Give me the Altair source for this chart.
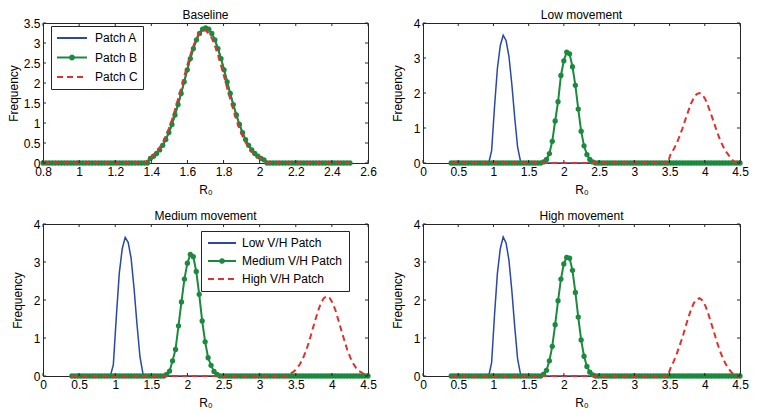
import altair as alt
import pandas as pd

FONT = "Liberation Sans"
BLUE = "#2b47a8"
GREEN = "#1b8a3e"
RED = "#e2302d"
AXC = "#262626"

# sampling grids (R0 values)
X_BASE = [0.800, 0.817, 0.834, 0.851, 0.868, 0.885, 0.902, 0.919, 0.936, 0.953,
          0.970, 0.987, 1.004, 1.021, 1.038, 1.055, 1.072, 1.089, 1.106, 1.123,
          1.140, 1.157, 1.174, 1.191, 1.208, 1.225, 1.242, 1.259, 1.276, 1.293,
          1.310, 1.327, 1.344, 1.361, 1.378, 1.395, 1.412, 1.429, 1.446, 1.463,
          1.480, 1.497, 1.514, 1.531, 1.548, 1.565, 1.582, 1.599, 1.616, 1.633,
          1.650, 1.667, 1.684, 1.701, 1.718, 1.735, 1.752, 1.769, 1.786, 1.803,
          1.820, 1.837, 1.854, 1.871, 1.888, 1.905, 1.922, 1.939, 1.956, 1.973,
          1.990, 2.007, 2.024, 2.041, 2.058, 2.075, 2.092, 2.109, 2.126, 2.143,
          2.160, 2.177, 2.194, 2.211, 2.228, 2.245, 2.262, 2.279, 2.296, 2.313,
          2.330, 2.347, 2.364, 2.381, 2.398, 2.415, 2.432, 2.449, 2.466, 2.483,
          2.500]

X_MOVE = [0.400, 0.441, 0.482, 0.523, 0.564, 0.605, 0.646, 0.687, 0.728, 0.769,
          0.810, 0.851, 0.892, 0.933, 0.974, 1.015, 1.056, 1.097, 1.138, 1.179,
          1.220, 1.261, 1.302, 1.343, 1.384, 1.425, 1.466, 1.507, 1.548, 1.589,
          1.630, 1.671, 1.712, 1.753, 1.794, 1.835, 1.876, 1.917, 1.958, 1.999,
          2.040, 2.081, 2.122, 2.163, 2.204, 2.245, 2.286, 2.327, 2.368, 2.409,
          2.450, 2.491, 2.532, 2.573, 2.614, 2.655, 2.696, 2.737, 2.778, 2.819,
          2.860, 2.901, 2.942, 2.983, 3.024, 3.065, 3.106, 3.147, 3.188, 3.229,
          3.270, 3.311, 3.352, 3.393, 3.434, 3.475, 3.516, 3.557, 3.598, 3.639,
          3.680, 3.721, 3.762, 3.803, 3.844, 3.885, 3.926, 3.967, 4.008, 4.049,
          4.090, 4.131, 4.172, 4.213, 4.254, 4.295, 4.336, 4.377, 4.418, 4.459,
          4.500]

# Baseline panel
BASE_A = [0, 0, 0, 0, 0, 0, 0, 0, 0, 0,
          0, 0, 0, 0, 0, 0, 0, 0, 0, 0,
          0, 0, 0, 0, 0, 0, 0, 0, 0, 0,
          0, 0, 0, 0, 0, 0.118, 0.169, 0.238, 0.328, 0.443,
          0.586, 0.760, 0.964, 1.20, 1.46, 1.74, 2.03, 2.33, 2.61, 2.86,
          3.08, 3.24, 3.35, 3.37, 3.35, 3.24, 3.08, 2.86, 2.61, 2.33,
          2.03, 1.74, 1.46, 1.20, 0.964, 0.760, 0.586, 0.443, 0.328, 0.238,
          0.169, 0.118, 0.080, 0, 0, 0, 0, 0, 0, 0,
          0, 0, 0, 0, 0, 0, 0, 0, 0, 0,
          0, 0, 0, 0, 0, 0, 0, 0, 0, 0,
          0]
BASE_B = [0, 0, 0, 0, 0, 0, 0, 0, 0, 0,
          0, 0, 0, 0, 0, 0, 0, 0, 0, 0,
          0, 0, 0, 0, 0, 0, 0, 0, 0, 0,
          0, 0, 0, 0, 0, 0.118, 0.169, 0.238, 0.328, 0.443,
          0.586, 0.760, 0.964, 1.20, 1.46, 1.74, 2.03, 2.33, 2.61, 2.86,
          3.08, 3.24, 3.345, 3.38, 3.345, 3.24, 3.08, 2.86, 2.61, 2.33,
          2.03, 1.74, 1.46, 1.20, 0.964, 0.760, 0.586, 0.443, 0.328, 0.238,
          0.169, 0.118, 0.080, 0, 0, 0, 0, 0, 0, 0,
          0, 0, 0, 0, 0, 0, 0, 0, 0, 0,
          0, 0, 0, 0, 0, 0, 0, 0, 0, 0,
          0]
BASE_C = [0, 0, 0, 0, 0, 0, 0, 0, 0, 0,
          0, 0, 0, 0, 0, 0, 0, 0, 0, 0,
          0, 0, 0, 0, 0, 0, 0, 0, 0, 0,
          0, 0, 0, 0, 0.06, 0.14, 0.20, 0.28, 0.385, 0.515,
          0.67, 0.86, 1.08, 1.33, 1.60, 1.87, 2.16, 2.44, 2.70, 2.93,
          3.12, 3.25, 3.32, 3.31, 3.24, 3.12, 2.93, 2.70, 2.44, 2.16,
          1.87, 1.60, 1.33, 1.08, 0.86, 0.67, 0.515, 0.385, 0.28, 0.20,
          0.14, 0.10, 0.06, 0, 0, 0, 0, 0, 0, 0,
          0, 0, 0, 0, 0, 0, 0, 0, 0, 0,
          0, 0, 0, 0, 0, 0, 0, 0, 0, 0,
          0]

# Low movement
LOW_A = [0, 0, 0, 0, 0, 0, 0, 0, 0, 0,
         0, 0, 0, 0, 0.35, 1.6, 2.7, 3.35, 3.65, 3.5,
         3.05, 2.25, 1.3, 0.45, 0.05, 0, 0, 0, 0, 0,
         0, 0, 0, 0, 0, 0, 0, 0, 0, 0,
         0, 0, 0, 0, 0, 0, 0, 0, 0, 0,
         0, 0, 0, 0, 0, 0, 0, 0, 0, 0,
         0, 0, 0, 0, 0, 0, 0, 0, 0, 0,
         0, 0, 0, 0, 0, 0, 0, 0, 0, 0,
         0, 0, 0, 0, 0, 0, 0, 0, 0, 0,
         0, 0, 0, 0, 0, 0, 0, 0, 0, 0,
         0]
LOW_B = [0, 0, 0, 0, 0, 0, 0, 0, 0, 0,
         0, 0, 0, 0, 0, 0, 0, 0, 0, 0,
         0, 0, 0, 0, 0, 0, 0, 0, 0, 0,
         0, 0, 0.03, 0.10, 0.27, 0.62, 1.20, 1.75, 2.50, 2.92,
         3.17, 3.12, 2.75, 2.22, 1.54, 0.91, 0.49, 0.24, 0.10, 0.03,
         0, 0, 0, 0, 0, 0, 0, 0, 0, 0,
         0, 0, 0, 0, 0, 0, 0, 0, 0, 0,
         0, 0, 0, 0, 0, 0, 0, 0, 0, 0,
         0, 0, 0, 0, 0, 0, 0, 0, 0, 0,
         0, 0, 0, 0, 0, 0, 0, 0, 0, 0,
         0]
LOW_C = [0, 0, 0, 0, 0, 0, 0, 0, 0, 0,
         0, 0, 0, 0, 0, 0, 0, 0, 0, 0,
         0, 0, 0, 0, 0, 0, 0, 0, 0, 0,
         0, 0, 0, 0, 0, 0, 0, 0, 0, 0,
         0, 0, 0, 0, 0, 0, 0, 0, 0, 0,
         0, 0, 0, 0, 0, 0, 0, 0, 0, 0,
         0, 0, 0, 0, 0, 0, 0, 0, 0, 0,
         0, 0, 0, 0, 0, 0, 0.26, 0.385, 0.55, 0.75,
         0.97, 1.22, 1.46, 1.69, 1.86, 1.97, 2.00, 1.95, 1.82, 1.62,
         1.39, 1.15, 0.90, 0.68, 0.50, 0.34, 0.23, 0.12, 0.03, 0,
         0]

# Medium movement
MED_A = [0, 0, 0, 0, 0, 0, 0, 0, 0, 0,
         0, 0, 0, 0, 0.3, 1.55, 2.7, 3.35, 3.65, 3.52,
         3.1, 2.3, 1.35, 0.5, 0.06, 0, 0, 0, 0, 0,
         0, 0, 0, 0, 0, 0, 0, 0, 0, 0,
         0, 0, 0, 0, 0, 0, 0, 0, 0, 0,
         0, 0, 0, 0, 0, 0, 0, 0, 0, 0,
         0, 0, 0, 0, 0, 0, 0, 0, 0, 0,
         0, 0, 0, 0, 0, 0, 0, 0, 0, 0,
         0, 0, 0, 0, 0, 0, 0, 0, 0, 0,
         0, 0, 0, 0, 0, 0, 0, 0, 0, 0,
         0]
MED_B = [0, 0, 0, 0, 0, 0, 0, 0, 0, 0,
         0, 0, 0, 0, 0, 0, 0, 0, 0, 0,
         0, 0, 0, 0, 0, 0, 0, 0, 0, 0,
         0, 0, 0.04, 0.13, 0.40, 0.70, 1.32, 1.95, 2.55, 2.97,
         3.20, 3.14, 2.75, 2.15, 1.45, 0.90, 0.48, 0.28, 0.12, 0.04,
         0, 0, 0, 0, 0, 0, 0, 0, 0, 0,
         0, 0, 0, 0, 0, 0, 0, 0, 0, 0,
         0, 0, 0, 0, 0, 0, 0, 0, 0, 0,
         0, 0, 0, 0, 0, 0, 0, 0, 0, 0,
         0, 0, 0, 0, 0, 0, 0, 0, 0, 0,
         0]
MED_C = [0, 0, 0, 0, 0, 0, 0, 0, 0, 0,
         0, 0, 0, 0, 0, 0, 0, 0, 0, 0,
         0, 0, 0, 0, 0, 0, 0, 0, 0, 0,
         0, 0, 0, 0, 0, 0, 0, 0, 0, 0,
         0, 0, 0, 0, 0, 0, 0, 0, 0, 0,
         0, 0, 0, 0, 0, 0, 0, 0, 0, 0,
         0, 0, 0, 0, 0, 0, 0, 0, 0, 0,
         0, 0, 0, 0, 0.07, 0.12, 0.20, 0.31, 0.46, 0.65,
         0.88, 1.15, 1.42, 1.68, 1.90, 2.04, 2.10, 2.06, 1.93, 1.73,
         1.47, 1.20, 0.94, 0.69, 0.49, 0.33, 0.21, 0.13, 0.08, 0.04,
         0.02]

# High movement
HIGH_A = [0, 0, 0, 0, 0, 0, 0, 0, 0, 0,
          0, 0, 0, 0, 0.35, 1.6, 2.7, 3.35, 3.66, 3.5,
          3.05, 2.25, 1.3, 0.45, 0.05, 0, 0, 0, 0, 0,
          0, 0, 0, 0, 0, 0, 0, 0, 0, 0,
          0, 0, 0, 0, 0, 0, 0, 0, 0, 0,
          0, 0, 0, 0, 0, 0, 0, 0, 0, 0,
          0, 0, 0, 0, 0, 0, 0, 0, 0, 0,
          0, 0, 0, 0, 0, 0, 0, 0, 0, 0,
          0, 0, 0, 0, 0, 0, 0, 0, 0, 0,
          0, 0, 0, 0, 0, 0, 0, 0, 0, 0,
          0]
HIGH_B = [0, 0, 0, 0, 0, 0, 0, 0, 0, 0,
          0, 0, 0, 0, 0, 0, 0, 0, 0, 0,
          0, 0, 0, 0, 0, 0, 0, 0, 0, 0,
          0, 0, 0.05, 0.15, 0.40, 0.78, 1.35, 1.98, 2.55, 2.95,
          3.12, 3.10, 2.78, 2.20, 1.55, 0.95, 0.52, 0.25, 0.10, 0.03,
          0, 0, 0, 0, 0, 0, 0, 0, 0, 0,
          0, 0, 0, 0, 0, 0, 0, 0, 0, 0,
          0, 0, 0, 0, 0, 0, 0, 0, 0, 0,
          0, 0, 0, 0, 0, 0, 0, 0, 0, 0,
          0, 0, 0, 0, 0, 0, 0, 0, 0, 0,
          0]
HIGH_C = [0, 0, 0, 0, 0, 0, 0, 0, 0, 0,
          0, 0, 0, 0, 0, 0, 0, 0, 0, 0,
          0, 0, 0, 0, 0, 0, 0, 0, 0, 0,
          0, 0, 0, 0, 0, 0, 0, 0, 0, 0,
          0, 0, 0, 0, 0, 0, 0, 0, 0, 0,
          0, 0, 0, 0, 0, 0, 0, 0, 0, 0,
          0, 0, 0, 0, 0, 0, 0, 0, 0, 0,
          0, 0, 0, 0, 0, 0, 0.22, 0.38, 0.56, 0.78,
          1.00, 1.26, 1.51, 1.74, 1.92, 2.02, 2.05, 1.99, 1.85, 1.64,
          1.40, 1.15, 0.90, 0.67, 0.48, 0.32, 0.20, 0.10, 0.03, 0,
          0]

NBSP = "\u00a0"
# legend texts (trailing no-break spaces give the boxes their right margin)
PATCH_LABELS = ["Patch A" + NBSP * 4, "Patch B" + NBSP * 4, "Patch C" + NBSP * 4]
VH_LABELS = ["Low V/H Patch" + NBSP * 6, "Medium V/H Patch" + NBSP * 6, "High V/H Patch" + NBSP * 6]
TITLES = ["Baseline", "Low movement", "Medium movement", "High movement"]

BASE_XTICKS = [0.8, 1.0, 1.2, 1.4, 1.6, 1.8, 2.0, 2.2, 2.4, 2.6]
BASE_YTICKS = [0, 0.5, 1, 1.5, 2, 2.5, 3, 3.5]
MOVE_XTICKS = [0, 0.5, 1, 1.5, 2, 2.5, 3, 3.5, 4, 4.5]
MOVE_YTICKS = [0, 1, 2, 3, 4]

LINE_PATH = "M-1,0L1,0"
DOT_PATH = "M-1,0L1,0M-0.13,0A0.13,0.13,0,1,1,0.13,0A0.13,0.13,0,1,1,-0.13,0Z"


def panel(title, xv, ya, yb, yc, xdom, ydom, xticks, yticks, W, H, ytp, legend=None):
    xsc = alt.Scale(domain=xdom, nice=False, zero=False)
    ysc = alt.Scale(domain=ydom, nice=False, zero=False)
    xax = alt.Axis(title="R₀", values=xticks, format="~g", labelFlush=False,
                   labelOverlap=False, labelPadding=3, titleY=21, titleBaseline="top")
    yax = alt.Axis(title="Frequency", values=yticks, format="~g", labelFlush=False,
                   labelOverlap=False, labelPadding=3, titlePadding=ytp)

    def X(f):
        return alt.X(f, type="quantitative", scale=xsc, axis=xax)

    def Y(f):
        return alt.Y(f, type="quantitative", scale=ysc, axis=yax)

    da = pd.DataFrame({"x": xv, "y": ya})
    db = pd.DataFrame({"x": xv, "y": yb})
    dc = pd.DataFrame({"x": xv, "y": yc})
    xt = pd.DataFrame({"t": xticks})
    yt = pd.DataFrame({"t": yticks})

    layers = []
    if legend is not None:
        labels, lx, ly, pad, ssize, lofs, clip, rowpad = legend
        ldf = pd.DataFrame({"x": [xv[0]] * 3, "y": [0, 0, 0], "label": labels})
        leg = alt.Legend(title=None, orient="none", legendX=lx, legendY=ly,
                         direction="vertical", symbolSize=ssize, symbolStrokeWidth=2,
                         symbolOpacity=1, clipHeight=clip, rowPadding=rowpad,
                         labelOffset=lofs, labelFont=FONT, labelFontSize=12,
                         labelColor="black", padding=pad, strokeColor=AXC,
                         fillColor="white", cornerRadius=0, labelLimit=400)
        layers.append(
            alt.Chart(ldf).mark_point(opacity=0, size=1, strokeWidth=2, filled=False).encode(
                x=X("x"), y=Y("y"),
                stroke=alt.Stroke("label:N", scale=alt.Scale(domain=labels, range=[BLUE, GREEN, RED]), legend=leg),
                fill=alt.Fill("label:N", scale=alt.Scale(domain=labels, range=["transparent", GREEN, "transparent"]), legend=leg),
                shape=alt.Shape("label:N", scale=alt.Scale(domain=labels, range=[LINE_PATH, DOT_PATH, LINE_PATH]), legend=leg),
                strokeDash=alt.StrokeDash("label:N", scale=alt.Scale(domain=labels, range=[[1, 0], [1, 0], [6, 4]]), legend=leg),
            )
        )

    layers += [
        alt.Chart(da).mark_line(color=BLUE, strokeWidth=1.5).encode(x=X("x"), y=Y("y")),
        alt.Chart(db).mark_line(color=GREEN, strokeWidth=2).encode(x=X("x"), y=Y("y")),
        alt.Chart(db).mark_circle(color=GREEN, size=28, opacity=1).encode(x=X("x"), y=Y("y")),
        alt.Chart(dc).mark_line(color=RED, strokeWidth=2, strokeDash=[6, 4]).encode(x=X("x"), y=Y("y")),
        alt.Chart(xt).mark_rule(color=AXC, strokeWidth=1).encode(x=X("t"), y=alt.value(H), y2=alt.value(H - 3)),
        alt.Chart(xt).mark_rule(color=AXC, strokeWidth=1).encode(x=X("t"), y=alt.value(0), y2=alt.value(3)),
        alt.Chart(yt).mark_rule(color=AXC, strokeWidth=1).encode(y=Y("t"), x=alt.value(0), x2=alt.value(3)),
        alt.Chart(yt).mark_rule(color=AXC, strokeWidth=1).encode(y=Y("t"), x=alt.value(W), x2=alt.value(W - 3)),
    ]
    return alt.layer(*layers).properties(width=W, height=H, title=title)


p1 = panel(TITLES[0], X_BASE, BASE_A, BASE_B, BASE_C, [0.8, 2.6], [0, 3.5],
           BASE_XTICKS, BASE_YTICKS, 325, 140, 3,
           legend=(PATCH_LABELS, 8, 3, 5, 900, 7, 14, 5.5))
p2 = panel(TITLES[1], X_MOVE, LOW_A, LOW_B, LOW_C, [0, 4.5], [0, 4],
           MOVE_XTICKS, MOVE_YTICKS, 317, 140, 9)
p3 = panel(TITLES[2], X_MOVE, MED_A, MED_B, MED_C, [0, 4.5], [0, 4],
           MOVE_XTICKS, MOVE_YTICKS, 325, 152, 9,
           legend=(VH_LABELS, 158, 7, 6, 784, 5, 12, 6))
p4 = panel(TITLES[3], X_MOVE, HIGH_A, HIGH_B, HIGH_C, [0, 4.5], [0, 4],
           MOVE_XTICKS, MOVE_YTICKS, 317, 152, 9)

chart = (
    alt.concat(p1, p2, p3, p4, columns=2, spacing={"row": 61, "column": 55}, bounds="flush")
    .resolve_scale(stroke="independent", fill="independent", shape="independent", strokeDash="independent")
    .resolve_legend(stroke="independent", fill="independent", shape="independent", strokeDash="independent")
    .properties(autosize=alt.AutoSizeParams(type="none"),
                padding={"left": 35, "top": 15, "right": 706, "bottom": 390},
                background="white")
    .configure_view(stroke=AXC, strokeWidth=1)
    .configure_axis(labelFont=FONT, titleFont=FONT, labelFontSize=12, titleFontSize=12,
                    labelColor="black", titleColor="black", titleFontWeight="normal",
                    grid=False, domain=False, ticks=False, tickSize=0)
    .configure_title(font=FONT, fontSize=12, fontWeight="normal", color="black",
                     anchor="middle", frame="group", offset=-5)
)

chart.save("out.html", embed_options={"renderer": "svg", "actions": False})
